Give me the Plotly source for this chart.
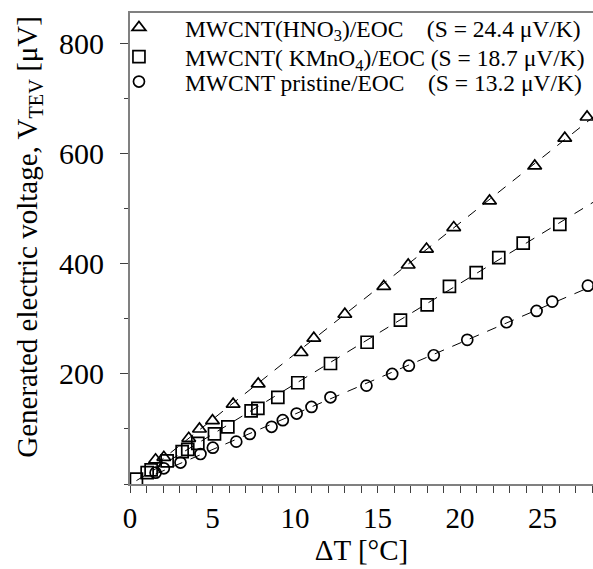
import numpy as np
import plotly.graph_objects as go

# ---- data ----
dt_hno3 = [1.55, 2.05, 3.56, 4.21, 5.0, 6.25, 7.77, 10.37, 11.14, 13.02, 15.38, 16.86,
           17.97, 19.62, 21.79, 24.53, 26.35, 27.7]
v_hno3 = [44, 48.5, 83, 100, 115, 145, 182, 239, 265, 308.5, 359, 398,
          427, 466, 514.5, 578, 628.5, 667]

dt_kmno4 = [0.39, 1.04, 1.28, 2.25, 3.16, 3.5, 4.11, 5.12, 5.93, 7.34, 7.75, 8.96,
            10.17, 12.15, 14.37, 16.39, 18.01, 19.36, 20.98, 22.35, 23.83, 26.05]
v_kmno4 = [9, 20.6, 25.5, 42, 59, 63, 74, 91, 104, 133, 137.5, 157.6,
           184, 219, 257.6, 298, 325.5, 359, 384, 411.5, 437.6, 472]

dt_pris = [1.55, 2.05, 3.06, 4.27, 5.02, 6.44, 7.26, 8.58, 9.26, 10.1, 11.0, 12.15,
           14.33, 15.89, 16.9, 18.41, 20.44, 22.82, 24.64, 25.59, 27.75]
v_pris = [20.6, 28.5, 39, 54.5, 66, 77, 91, 104, 116, 128, 140, 157.6,
          178.8, 200, 215, 234, 262, 294, 314.5, 331.5, 360.5]

names = ["MWCNT(HNO<sub>3</sub>)/EOC\u00a0\u00a0\u00a0\u00a0(S = 24.4 \u03bcV/K)",
         "MWCNT(\u00a0KMnO<sub>4</sub>)/EOC (S = 18.7 \u03bcV/K)",
         "MWCNT pristine/EOC\u00a0\u00a0\u00a0\u00a0(S = 13.2 \u03bcV/K)"]
symbols = ["triangle-up-open", "square-open", "circle-open"]
sizes = [12, 12, 11]
legend_ids = ["legend", "legend2", "legend3"]
legend_rows_y = [0.969, 0.907, 0.854]   # paper y of each legend row

x_range = [0, 28.06]
y_range = [0, 856]

FONT = "Liberation Serif"

fig = go.Figure()
series = [(dt_hno3, v_hno3), (dt_kmno4, v_kmno4), (dt_pris, v_pris)]

# fitted dashed lines
for (xs, ys) in series:
    k, b = np.polyfit(xs, ys, 1)
    lx = np.array([min(xs), x_range[1] + 0.2])
    fig.add_trace(go.Scatter(x=lx, y=k * lx + b, mode="lines",
                             line=dict(color="black", width=1, dash="10px,9px"),
                             showlegend=False, hoverinfo="skip"))

for (xs, ys), nm, sym, sz, lg in zip(series, names, symbols, sizes, legend_ids):
    fig.add_trace(go.Scatter(x=xs, y=ys, mode="markers", name=nm, legend=lg,
                             marker=dict(symbol=sym, size=sz, color="black",
                                         line=dict(color="black", width=1.7))))

legend_style = dict(x=-0.08, xanchor="left", yanchor="middle",
                    bgcolor="rgba(0,0,0,0)", font=dict(family=FONT, size=23.5),
                    itemwidth=82)

fig.update_layout(
    width=593, height=569,
    margin=dict(l=130, r=0, t=13, b=85),
    plot_bgcolor="white", paper_bgcolor="white",
    font=dict(family=FONT, color="black"),
    legend=dict(y=legend_rows_y[0], **legend_style),
    legend2=dict(y=legend_rows_y[1], **legend_style),
    legend3=dict(y=legend_rows_y[2], **legend_style),
    annotations=[dict(text="Generated electric voltage, V<sub>TEV</sub> [\u03bcV]",
                      textangle=-90, xref="paper", yref="paper",
                      x=-0.218, y=0.525, xanchor="center", yanchor="middle",
                      showarrow=False, font=dict(family=FONT, size=29, color="black"))],
)
fig.update_xaxes(
    range=x_range, showgrid=False, zeroline=False,
    showline=True, linecolor="#808080", linewidth=2, mirror=True,
    ticks="outside", ticklen=7, tickcolor="#404040", tickwidth=1,
    tick0=0, dtick=5,
    minor=dict(dtick=1, ticks="outside", ticklen=7, tickcolor="#404040", tickwidth=1),
    tickfont=dict(family=FONT, size=29, color="black"),
    title=dict(text="\u0394T [\u00b0C]", font=dict(family=FONT, size=29), standoff=6),
)
fig.update_yaxes(
    range=y_range, showgrid=False, zeroline=False,
    showline=True, linecolor="#808080", linewidth=2,
    ticks="outside", ticklen=8, tickcolor="#404040", tickwidth=1,
    tickvals=[200, 400, 600, 800],
    ticklabelstandoff=10,
    minor=dict(dtick=100, ticks="outside", ticklen=4, tickcolor="#404040", tickwidth=1),
    tickfont=dict(family=FONT, size=30, color="black"),
)

fig.write_html("out.html")
